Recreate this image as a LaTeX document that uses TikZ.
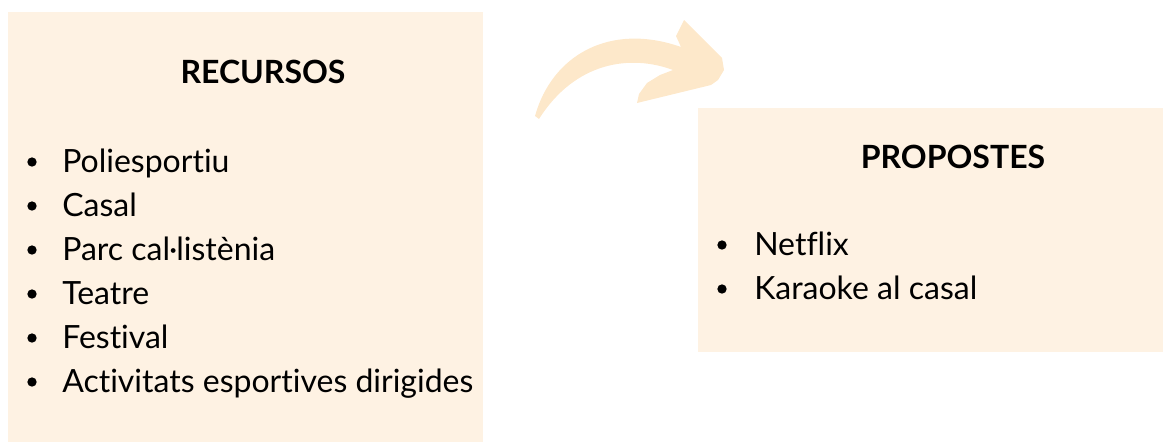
\documentclass[tikz,border=0pt]{standalone}
\usepackage{fontspec}
\setmainfont{Lato}[Ligatures={NoCommon}]
\definecolor{boxcream}{HTML}{FEF2E3}
\definecolor{arrowcream}{HTML}{FDE8CA}
\tikzset{
  boxbg/.style={fill=boxcream, draw=none},
  boxtitle/.style={font=\fontsize{24}{28}\selectfont\bfseries, anchor=base, inner sep=0pt},
  entry/.style={font=\fontsize{24}{28}\selectfont, anchor=base west, inner sep=0pt},
  bulletdot/.style={fill=black, circle, inner sep=0pt, minimum size=7pt},
}

\begin{document}
\begin{tikzpicture}[x=0.75pt, y=-0.75pt]
	%%%%% START %%%%%
	\useasboundingbox (0, 0) rectangle (1163, 443);
	
	% boxes
	\fill[boxbg] (8, 12) rectangle (483, 442);
	\fill[boxbg] (698, 108) rectangle (1163, 352);
	
	% arrow
	\fill[arrowcream] (535, 116) .. controls (552, 55) and (610, 22) .. (681, 47)
		-- (676, 36) -- (684, 20) -- (722, 58) -- (724, 70) -- (718, 80) -- (711, 85)
		-- (637, 103)
		-- (639, 94) -- (647, 83) -- (660, 75) -- (673, 70)
		.. controls (630, 54) and (575, 62) .. (539, 119) -- cycle;
	
	% left box
	\node[boxtitle] (rectitle) at (263, 83) {RECURSOS};
	\foreach \txt [count=\i] in {Poliesportiu, Casal, Parc cal·listènia, Teatre, Festival, Activitats esportives dirigides} {
		\node[bulletdot] (recdot\i) at (32, 118 + 44*\i) {};
		\node[entry] (rec\i) at (62, 128 + 44*\i) {\txt};
	}
	
	% right box
	\node[boxtitle] (proptitle) at (953, 168) {PROPOSTES};
	\foreach \txt [count=\i] in {Netflix, Karaoke al casal} {
		\node[bulletdot] (propdot\i) at (722, 201 + 44*\i) {};
		\node[entry] (prop\i) at (754, 211 + 44*\i) {\txt};
	}
	%%%%% END %%%%%
\end{tikzpicture}
\end{document}
